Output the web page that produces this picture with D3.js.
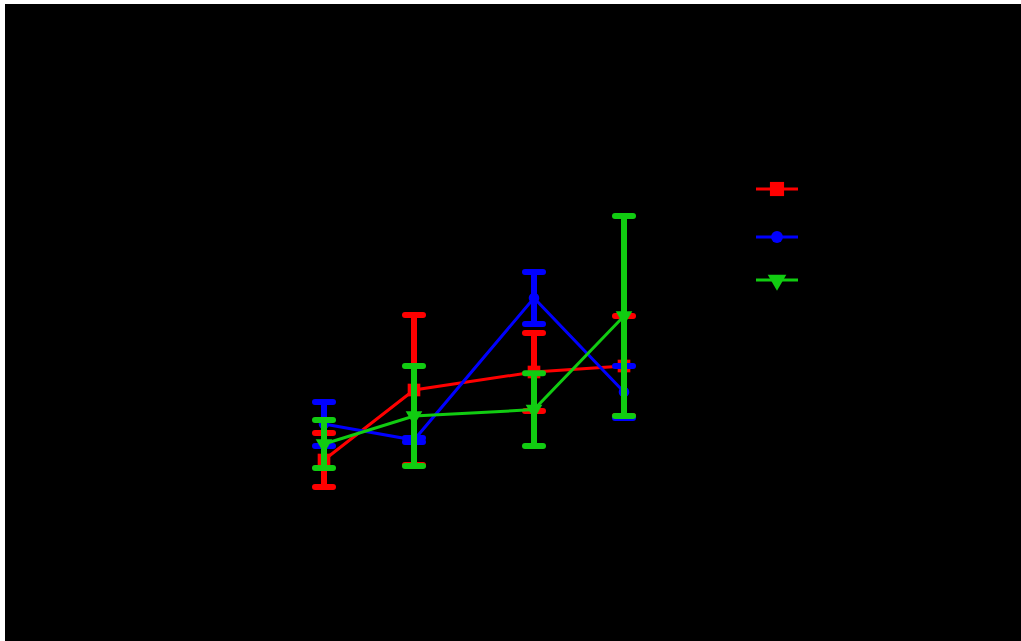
<!DOCTYPE html>
<html>
<head>
<meta charset="utf-8">
<script src="https://cdn.jsdelivr.net/npm/d3@7"></script>
<style>
  html, body { margin: 0; padding: 0; background: #fff; }
  svg { display: block; }
</style>
</head>
<body>
<div id="chart"></div>
<script>
// time points (days)
const days = [0, 3, 7, 10];
const seriesNames = ['Group A', 'Group B', 'Group C'];
const redMean = [20, 37.5, 42, 43.5];
const redErr = [6.75, 18.75, 9.75, 12.5];
const blueMean = [29, 25, 60.5, 37];
const blueErr = [5.5, 0.5, 6.5, 6.5];
const greenMean = [24, 31, 32.6, 56];
const greenErr = [6, 12.5, 9.1, 25];
const yTicks = [0, 20, 40, 60, 80, 100];

const W = 1021, H = 641;
const svg = d3.select('#chart').append('svg').attr('width', W).attr('height', H);

// black plot canvas, thin white strip at top and left
svg.append('rect').attr('x', 5).attr('y', 4).attr('width', W - 5).attr('height', H - 4).attr('fill', '#000');

const x = d3.scaleLinear().domain([0, 10]).range([324, 624]);
const y = d3.scaleLinear().domain([0, 100]).range([540, 140]);

// axes (black on black, as in the reference)
svg.append('g').attr('transform', 'translate(0,540)')
  .call(d3.axisBottom(x).tickValues(days))
  .attr('color', '#000');
svg.append('g').attr('transform', 'translate(290,0)')
  .call(d3.axisLeft(y).tickValues(yTicks))
  .attr('color', '#000');

const series = [
  { name: seriesNames[0], mean: redMean, err: redErr, color: '#ff0000', shape: d3.symbolSquare, size: 200 },
  { name: seriesNames[1], mean: blueMean, err: blueErr, color: '#0000ff', shape: d3.symbolCircle, size: 110 },
  { name: seriesNames[2], mean: greenMean, err: greenErr, color: '#11cc11', shape: d3.symbolTriangle, size: 150, flip: true }
];

const line = d3.line().x(d => x(d.t)).y(d => y(d.m));

series.forEach(s => {
  const pts = days.map((t, i) => ({ t, m: s.mean[i], e: s.err[i] }));
  const g = svg.append('g');
  // error bars
  pts.forEach(p => {
    g.append('line')
      .attr('x1', x(p.t)).attr('x2', x(p.t))
      .attr('y1', y(p.m - p.e)).attr('y2', y(p.m + p.e))
      .attr('stroke', s.color).attr('stroke-width', 6);
    [p.m - p.e, p.m + p.e].forEach(v => {
      g.append('line')
        .attr('x1', x(p.t) - 9).attr('x2', x(p.t) + 9)
        .attr('y1', y(v)).attr('y2', y(v))
        .attr('stroke', s.color).attr('stroke-width', 6).attr('stroke-linecap', 'round');
    });
  });
  g.append('path').datum(pts).attr('d', line)
    .attr('fill', 'none').attr('stroke', s.color).attr('stroke-width', 3);
  g.selectAll('.pt').data(pts).enter().append('path')
    .attr('d', d3.symbol().type(s.shape).size(s.size * 0.8))
    .attr('transform', d => `translate(${x(d.t)},${y(d.m)})` + (s.flip ? ' rotate(180)' : ''))
    .attr('fill', s.color);
});

// legend
const legY = [189, 237, 280];
series.forEach((s, i) => {
  const lg = svg.append('g').attr('transform', `translate(777,${legY[i]})`);
  lg.append('line').attr('x1', -21).attr('x2', 21).attr('stroke', s.color).attr('stroke-width', 3);
  lg.append('path')
    .attr('d', d3.symbol().type(s.shape).size(s.size))
    .attr('transform', s.flip ? 'rotate(180)' : null)
    .attr('fill', s.color);
  lg.append('text').attr('x', 30).attr('y', 5).text(s.name)
    .attr('fill', '#000').style('font-family', 'Liberation Sans, Arial').style('font-size', '14px');
});
</script>
</body>
</html>
